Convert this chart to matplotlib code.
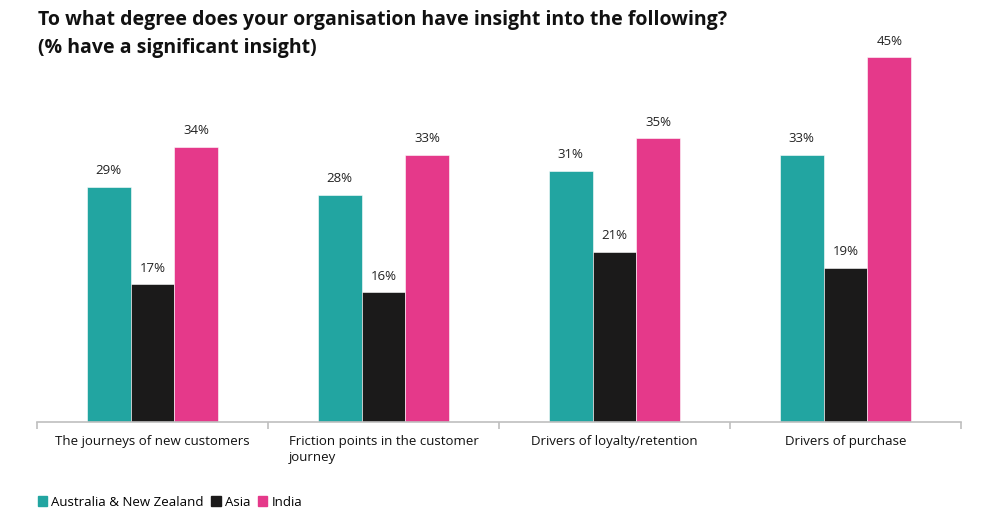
import matplotlib
matplotlib.use("Agg")
import matplotlib.pyplot as plt
import numpy as np
from matplotlib.patches import Rectangle

categories = [
    "The journeys of new customers",
    "Friction points in the customer\njourney",
    "Drivers of loyalty/retention",
    "Drivers of purchase",
]
series = ["Australia & New Zealand", "Asia", "India"]
anz = [29, 28, 31, 33]
asia = [17, 16, 21, 19]
india = [34, 33, 35, 45]
colours = ["#22A5A1", "#1B1A1A", "#E5398A"]

plt.rcParams["font.family"] = ["Open Sans", "DejaVu Sans"]

W, H = 987, 524
fig = plt.figure(figsize=(W / 100, H / 100), dpi=100)
ax = fig.add_axes([37 / W, 102 / H, (961 - 37) / W, 405 / H])

x = np.arange(len(categories))
bw = 0.19
for i, (vals, col) in enumerate(zip([anz, asia, india], colours)):
    bars = ax.bar(x + (i - 1) * bw, vals, width=bw, color=col, label=series[i],
                  edgecolor="white", linewidth=0.4)
    ax.bar_label(bars, labels=[f"{v}%" for v in vals], padding=7, fontsize=9.5,
                 color="#222222")

ax.set_xlim(-0.5, len(categories) - 0.5)
ax.set_ylim(0, 50)
for s in ["top", "right", "left"]:
    ax.spines[s].set_visible(False)
ax.spines["bottom"].set_color("#BFBFBF")
ax.spines["bottom"].set_linewidth(1.2)
ax.set_yticks([])
ax.set_xticks(np.arange(-0.5, len(categories)))
ax.set_xticklabels([])
ax.tick_params(axis="x", length=5, color="#BFBFBF", width=1.2)
for xi, lab in zip(x, categories):
    ax.text(xi, -1.6, lab, ha="center", va="top", multialignment="left",
            fontsize=9.5, color="#111111", linespacing=1.35)

fig.text(38 / W, 1 - 20 / H, "To what degree does your organisation have insight into the following?",
         fontsize=14, fontweight="bold", va="center", ha="left", color="#111111")
fig.text(38 / W, 1 - 48 / H, "(% have a significant insight)",
         fontsize=14, fontweight="bold", va="center", ha="left", color="#111111")

handles = [Rectangle((0, 0), 1, 1, color=c) for c in colours]
fig.legend(handles, series, loc="center left", bbox_to_anchor=(26 / W, 1 - 502 / H),
           ncol=3, frameon=False, handlelength=0.7, handleheight=0.7,
           handletextpad=0.3, columnspacing=0.6, prop={"size": 9.5})

fig.savefig("out.png", dpi=100)
